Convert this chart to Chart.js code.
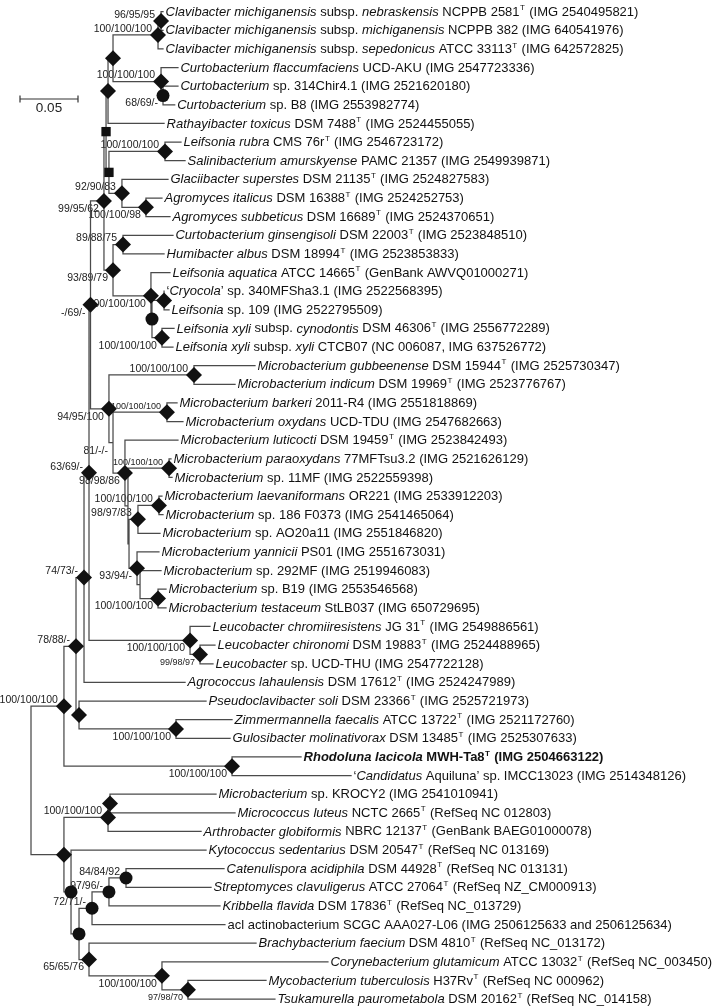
<!DOCTYPE html>
<html><head><meta charset="utf-8">
<script src="https://cdn.jsdelivr.net/npm/chart.js@4.4.1/dist/chart.umd.min.js"></script>
<style>html,body{margin:0;padding:0;background:#fff;overflow:hidden}#wrap{position:relative;width:720px;height:1007px}</style>
</head><body><div id="wrap"><canvas id="c"></canvas></div>
<script>
// ~ toggles italic, * toggles bold, ^X superscript X
const leafLabels = [
"~Clavibacter michiganensis~ subsp. ~nebraskensis~ NCPPB 2581^T (IMG 2540495821)",
"~Clavibacter michiganensis~ subsp. ~michiganensis~ NCPPB 382 (IMG 640541976)",
"~Clavibacter michiganensis~ subsp. ~sepedonicus~ ATCC 33113^T (IMG 642572825)",
"~Curtobacterium flaccumfaciens~ UCD-AKU (IMG 2547723336)",
"~Curtobacterium~ sp. 314Chir4.1 (IMG 2521620180)",
"~Curtobacterium~ sp. B8 (IMG 2553982774)",
"~Rathayibacter toxicus~ DSM 7488^T (IMG 2524455055)",
"~Leifsonia rubra~ CMS 76r^T (IMG 2546723172)",
"~Salinibacterium amurskyense~ PAMC 21357 (IMG 2549939871)",
"~Glaciibacter superstes~ DSM 21135^T (IMG 2524827583)",
"~Agromyces italicus~ DSM 16388^T (IMG 2524252753)",
"~Agromyces subbeticus~ DSM 16689^T (IMG 2524370651)",
"~Curtobacterium ginsengisoli~ DSM 22003^T (IMG 2523848510)",
"~Humibacter albus~ DSM 18994^T (IMG 2523853833)",
"~Leifsonia aquatica~ ATCC 14665^T (GenBank AWVQ01000271)",
"\u2018~Cryocola~\u2019 sp. 340MFSha3.1 (IMG 2522568395)",
"~Leifsonia~ sp. 109 (IMG 2522795509)",
"~Leifsonia xyli~ subsp. ~cynodontis~ DSM 46306^T (IMG 2556772289)",
"~Leifsonia xyli~ subsp. ~xyli~ CTCB07 (NC 006087, IMG 637526772)",
"~Microbacterium gubbeenense~ DSM 15944^T (IMG 2525730347)",
"~Microbacterium indicum~ DSM 19969^T (IMG 2523776767)",
"~Microbacterium barkeri~ 2011-R4 (IMG 2551818869)",
"~Microbacterium oxydans~ UCD-TDU (IMG 2547682663)",
"~Microbacterium luticocti~ DSM 19459^T (IMG 2523842493)",
"~Microbacterium paraoxydans~ 77MFTsu3.2 (IMG 2521626129)",
"~Microbacterium~ sp. 11MF (IMG 2522559398)",
"~Microbacterium laevaniformans~ OR221 (IMG 2533912203)",
"~Microbacterium~ sp. 186 F0373 (IMG 2541465064)",
"~Microbacterium~ sp. AO20a11 (IMG 2551846820)",
"~Microbacterium yannicii~ PS01 (IMG 2551673031)",
"~Microbacterium~ sp. 292MF (IMG 2519946083)",
"~Microbacterium~ sp. B19 (IMG 2553546568)",
"~Microbacterium testaceum~ StLB037 (IMG 650729695)",
"~Leucobacter chromiiresistens~ JG 31^T (IMG 2549886561)",
"~Leucobacter chironomi~ DSM 19883^T (IMG 2524488965)",
"~Leucobacter~ sp. UCD-THU (IMG 2547722128)",
"~Agrococcus lahaulensis~ DSM 17612^T (IMG 2524247989)",
"~Pseudoclavibacter soli~ DSM 23366^T (IMG 2525721973)",
"~Zimmermannella faecalis~ ATCC 13722^T (IMG 2521172760)",
"~Gulosibacter molinativorax~ DSM 13485^T (IMG 2525307633)",
"*~Rhodoluna lacicola~ MWH-Ta8^T (IMG 2504663122)*",
"\u2018~Candidatus~ Aquiluna\u2019 sp. IMCC13023 (IMG 2514348126)",
"~Microbacterium~ sp. KROCY2 (IMG 2541010941)",
"~Micrococcus luteus~ NCTC 2665^T (RefSeq NC 012803)",
"~Arthrobacter globiformis~ NBRC 12137^T (GenBank BAEG01000078)",
"~Kytococcus sedentarius~ DSM 20547^T (RefSeq NC 013169)",
"~Catenulispora acidiphila~ DSM 44928^T (RefSeq NC 013131)",
"~Streptomyces clavuligerus~ ATCC 27064^T (RefSeq NZ_CM000913)",
"~Kribbella flavida~ DSM 17836^T (RefSeq NC_013729)",
"acl actinobacterium SCGC AAA027-L06 (IMG 2506125633 and 2506125634)",
"~Brachybacterium faecium~ DSM 4810^T (RefSeq NC_013172)",
"~Corynebacterium glutamicum~ ATCC 13032^T (RefSeq NC_003450)",
"~Mycobacterium tuberculosis~ H37Rv^T (RefSeq NC 000962)",
"~Tsukamurella paurometabola~ DSM 20162^T (RefSeq NC_014158)"
];
// distance of each tip from the root (substitutions per site)
const leafDepth = [
0.1138,0.1138,0.1138,0.1267,0.1267,0.1239,0.1147,0.1293,0.1328,0.1181,
0.1129,0.1198,0.1224,0.1147,0.1198,0.1147,0.1190,0.1233,0.1224,0.1931,
0.1759,0.1259,0.1310,0.1267,0.1207,0.1216,0.1129,0.1138,0.1112,0.1103,
0.1121,0.1164,0.1164,0.1543,0.1586,0.1569,0.1328,0.1509,0.1733,0.1716,
0.2328,0.2759,0.1595,0.1759,0.1466,0.1509,0.1664,0.1552,0.1629,0.1672,
0.1940,0.2560,0.2026,0.2103
];
// internal nodes: children (leaf index or node name), depth, bootstrap support
const nodeNames    = ['N','M','P','O','L','K','Q','U','T','S','R','V','X','AA','Y','W','J','H','GI','BO','PO','LV','N9783','BT','Q2','N9394','N3','N2','N1','N81','MB','G','L9997','LB','E','C','ZG','D','B','RA','A','MK','MA','CS','KB','AC','MT','CO','BR','AB','KY','K2','ROOT'];
const nodeChildren = [[0,1],['N',2],[4,5],[3,'P'],['M','O'],['L',6],[7,8],[10,11],[9,'U'],['Q','T'],['K','S'],[12,13],[15,16],[17,18],['X','AA'],[14,'Y'],['V','W'],['R','J'],[19,20],[21,22],[24,25],[26,27],['LV',28],[31,32],[30,'BT'],[29,'Q2'],['N9783','N9394'],['PO','N3'],[23,'N2'],['BO','N1'],['GI','N81'],['H','MB'],[34,35],[33,'L9997'],['G','LB'],['E',36],[38,39],[37,'ZG'],['C','D'],[40,41],['B','RA'],[42,43],['MK',44],[46,47],['CS',48],['KB',49],[52,53],[51,'MT'],[50,'CO'],['AC','BR'],[45,'AB'],['MA','KY'],['A','K2']];
const nodeDepth    = [0.1121,0.1095,0.1138,0.1121,0.0707,0.0664,0.1155,0.0991,0.0784,0.0672,0.0647,0.0793,0.1147,0.1129,0.1043,0.1034,0.0707,0.0629,0.1405,0.1172,0.1190,0.1103,0.0922,0.1095,0.0940,0.0914,0.0845,0.0836,0.0810,0.0707,0.0672,0.0513,0.1457,0.1371,0.0500,0.0457,0.1250,0.0414,0.0388,0.1733,0.0284,0.0681,0.0664,0.0819,0.0672,0.0526,0.1353,0.1129,0.0500,0.0414,0.0345,0.0284,0];
const nodeSupport  = ['96/95/95','100/100/100','68/69/-','100/100/100','','','100/100/100','100/100/98','92/90/83','','','89/88/75','','100/100/100','','100/100/100','93/89/79','99/95/62','100/100/100','100/100/100','100/100/100','100/100/100','98/97/83','100/100/100','','93/94/-','','','98/98/86','81/-/-','94/95/100','-/69/-','99/98/97','100/100/100','63/69/-','74/73/-','100/100/100','','78/88/-','100/100/100','100/100/100','','100/100/100','84/84/92','97/96/-','72/71/-','97/98/70','100/100/100','65/65/76','','','',''];
const scaleBarValue = 0.05;
const scaleBarText = '0.05';

// ---- styling (not data) ----
const nodeMarker   = ['D','D','C','D','D','D','D','D','D','S','S','D','D','D','C','D','D','D','D','D','D','D','D','D','','D','','','D','','D','D','D','D','D','D','D','D','D','D','D','D','D','C','C','C','D','D','D','C','C','D',''];
const nodeLabelSide= ['a','a','b','a','','','a','b','a','','','a','','b','','b','b','b','a','a','a','a','a','b','','b','','','b','b','b','b','b','b','a','a','b','','a','b','a','','a','a','a','a','b','b','b','','','',''];
const smallLabels = ['BO','PO','L9997','MT'];

const idx = {}; nodeNames.forEach((n,i)=>idx[n]=i);
const nodeY = {};
function yOf(c){ if (typeof c==='number') return c; if (nodeY[c]!==undefined) return nodeY[c];
  const ch=nodeChildren[idx[c]]; const v=(yOf(ch[0])+yOf(ch[ch.length-1]))/2; nodeY[c]=v; return v; }
function xOf(c){ return typeof c==='number' ? leafDepth[c] : nodeDepth[idx[c]]; }

const branchPts=[];
nodeNames.forEach((n,i)=>{ const ch=nodeChildren[i]; const x=nodeDepth[i];
  const a=ch[0], b=ch[ch.length-1];
  branchPts.push({x:xOf(a),y:yOf(a)},{x:x,y:yOf(a)},{x:x,y:yOf(b)},{x:xOf(b),y:yOf(b)},{x:NaN,y:NaN});
});
const mk = t => nodeNames.map((n,i)=> nodeMarker[i]===t ? {x:nodeDepth[i],y:yOf(n)} : null).filter(Boolean);

const FONT='"Liberation Sans", Arial, Helvetica, sans-serif';
function drawRich(ctx,str,x,y,size){
  let it=false,bd=false,buf='';
  const f=(s)=>(it?'italic ':'')+(bd?'bold ':'')+s+'px '+FONT;
  const flush=()=>{ if(!buf) return; ctx.font=f(size); ctx.fillText(buf,x,y); x+=ctx.measureText(buf).width; buf=''; };
  for(let i=0;i<str.length;i++){ const ch=str[i];
    if(ch==='~'){flush(); it=!it;}
    else if(ch==='*'){flush(); bd=!bd;}
    else if(ch==='^'){flush(); const t=str[++i]; const sv=it; it=false; ctx.font=f(Math.round(size*0.62)); ctx.fillText(t,x+0.5,y-4); x+=ctx.measureText(t).width+1.2; it=sv;}
    else buf+=ch;
  }
  flush();
}

const treeText={
  id:'treeText',
  beforeDatasetsDraw(chart){
    const ctx=chart.ctx, xs=chart.scales.x, ys=chart.scales.y;
    ctx.save(); ctx.fillStyle='#222'; ctx.textAlign='right'; ctx.textBaseline='middle';
    nodeNames.forEach((n,i)=>{ const s=nodeSupport[i]; if(!s) return;
      const px=xs.getPixelForValue(nodeDepth[i]), py=ys.getPixelForValue(yOf(n));
      ctx.font=(smallLabels.includes(n)?'9px ':'10.5px ')+FONT;
      if(nodeLabelSide[i]==='a') ctx.fillText(s,px-6,py-6); else ctx.fillText(s,px-5,py+8);
    });
    ctx.restore();
  },
  afterDatasetsDraw(chart){
    const ctx=chart.ctx, xs=chart.scales.x, ys=chart.scales.y;
    ctx.save(); ctx.fillStyle='#111'; ctx.textAlign='left'; ctx.textBaseline='middle';
    leafLabels.forEach((t,i)=>{ drawRich(ctx,t,xs.getPixelForValue(leafDepth[i])+2.5,ys.getPixelForValue(i)+0.5,13); });
    // scale bar
    const len=xs.getPixelForValue(scaleBarValue)-xs.getPixelForValue(0);
    const x0=20, y0=99;
    ctx.strokeStyle='#333'; ctx.lineWidth=1.2; ctx.beginPath();
    ctx.moveTo(x0,y0); ctx.lineTo(x0+len,y0);
    ctx.moveTo(x0,y0-3.5); ctx.lineTo(x0,y0+3.5);
    ctx.moveTo(x0+len,y0-3.5); ctx.lineTo(x0+len,y0+3.5); ctx.stroke();
    ctx.textAlign='center'; ctx.font='13.5px '+FONT; ctx.fillStyle='#222';
    ctx.fillText(scaleBarText,x0+len/2,y0+9);
    ctx.restore();
  }
};

const PXU=1160;
new Chart(document.getElementById('c'),{
  type:'scatter',
  data:{datasets:[
    {data:branchPts,showLine:true,borderColor:'#4a4a4a',borderWidth:1.25,pointRadius:0,spanGaps:false,borderCapStyle:'square',borderJoinStyle:'miter',order:3},
    {data:mk('D'),pointStyle:'rectRot',pointRadius:8,backgroundColor:'#111',borderWidth:0,order:1},
    {data:mk('C'),pointStyle:'circle',pointRadius:6.5,backgroundColor:'#111',borderWidth:0,order:1},
    {data:mk('S'),pointStyle:'rect',pointRadius:6.6,backgroundColor:'#111',borderWidth:0,order:1}
  ]},
  options:{
    responsive:true,maintainAspectRatio:false,animation:false,events:[],
    layout:{padding:0,autoPadding:false},
    plugins:{legend:{display:false},tooltip:{enabled:false}},
    scales:{
      x:{type:'linear',display:false,min:-31/PXU,max:(720-31)/PXU},
      y:{type:'linear',display:false,reverse:true,min:-11.7/18.63,max:-11.7/18.63+1007/18.63}
    }
  },
  plugins:[treeText]
});
</script></body></html>
